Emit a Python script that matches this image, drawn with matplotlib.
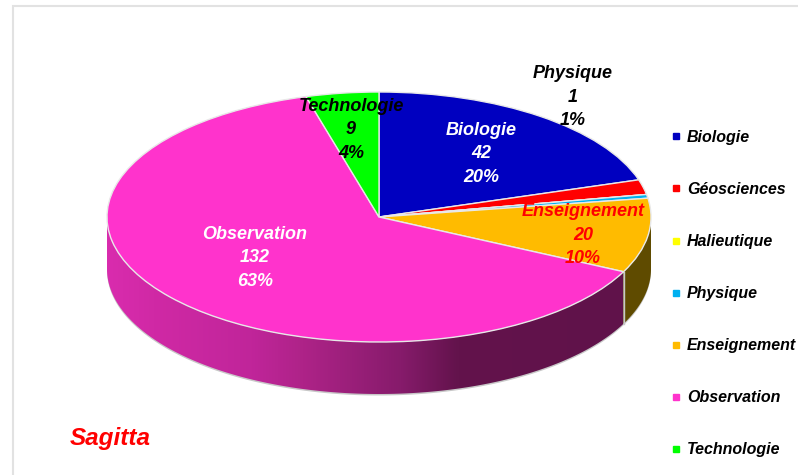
import numpy as np
import matplotlib
matplotlib.use("Agg")
import matplotlib.pyplot as plt
from matplotlib.lines import Line2D
from matplotlib.patches import Polygon, Rectangle
from matplotlib.colors import LinearSegmentedColormap

plt.rcParams["font.family"] = ["Liberation Sans", "DejaVu Sans"]

# Data
categories = ["Biologie", "Géosciences", "Halieutique", "Physique", "Enseignement", "Observation", "Technologie"]
values = [42, 4, 0, 1, 20, 132, 9]
percents = ["20%", "2%", "0%", "1%", "10%", "63%", "4%"]
colors = ["#0000C0", "#FF0000", "#FFFF00", "#00B0F0", "#FFBB00", "#FF33CC", "#00FF00"]

W, H = 798, 475
CX, CY, RX, RY, DEPTH = 379, 217, 272, 125, 52


def ux(px):
    return (px - CX) / RX


def uy(py):
    return (CY - py) / RY


fig = plt.figure(figsize=(W / 100, H / 100), dpi=100)
ax = fig.add_axes([0, 0, 1, 1])

# pie top
wedges, _ = ax.pie(values, colors=colors, startangle=90, counterclock=False, radius=1,
                   wedgeprops={"edgecolor": "#E8E8E8", "linewidth": 1.0})
for w in wedges:
    w.set_zorder(5)
ax.set_aspect("auto")
ax.axis("off")

# side walls, angles come from the values
d = DEPTH / RY
cum = np.cumsum(values) / sum(values)
ens_end = 90 - 360 * cum[4]


def wall(a0, a1):
    t = np.radians(np.linspace(a0, a1, 120))
    x, y = np.cos(t), np.sin(t)
    return np.column_stack([np.r_[x, x[::-1]], np.r_[y, y[::-1] - d]])


# shadow edge under the pie
ax.add_patch(Polygon(wall(0, -180) - [0, 0.012], closed=True, fc="#C8C8C8", ec="none", zorder=1))

ax.add_patch(Polygon(wall(0, ens_end), closed=True, fc="#5F4B00", ec="none", zorder=2))

obs_wall = Polygon(wall(ens_end, -180), closed=True, fc="none", ec="none", zorder=2)
ax.add_patch(obs_wall)
cmap = LinearSegmentedColormap.from_list("side", [(0, "#D92CAE"), (0.09, "#D029A5"), (0.28, "#C0259A"),
                                                  (0.38, "#AE2388"), (0.57, "#861B6B"), (0.68, "#63134C"),
                                                  (1, "#60124A")])
img = ax.imshow(np.linspace(0, 1, 256).reshape(1, -1), cmap=cmap, aspect="auto", zorder=2,
                extent=(-1, ux(623), -1 - d - 0.02, 0.0), interpolation="bilinear")
img.set_clip_path(obs_wall)
ax.set_xlim(ux(0), ux(W))
ax.set_ylim(uy(H), uy(0))

# seam between the two walls
t = np.radians(ens_end)
ax.plot([np.cos(t), np.cos(t)], [np.sin(t), np.sin(t) - d], color="#C8C8C8", lw=1, zorder=3)

# chart frame
ax.add_patch(Rectangle((ux(13), uy(H + 20)), ux(W + 20) - ux(13), uy(6) - uy(H + 20),
                       fc="none", ec="#E2E2E2", lw=1.5, zorder=0))

# data labels: centre pixel, category index, colour
labels = [(573, 97, 3, "black"), (481, 154, 0, "white"), (583, 235, 4, "red"),
          (255, 258, 5, "white"), (351, 130, 6, "black")]
for px, py, i, col in labels:
    ax.text(ux(px), uy(py), f"{categories[i]}\n{values[i]}\n{percents[i]}", color=col, ha="center", va="center",
            fontsize=13, fontweight="bold", fontstyle="italic", linespacing=1.5, zorder=8)

ax.text(ux(70), uy(438), "Sagitta", color="red", ha="left", va="center",
        fontsize=17.5, fontweight="bold", fontstyle="italic", zorder=8)

# legend
handles = [Line2D([], [], ls="none", marker="s", ms=5, color=c) for c in colors]
fig.legend(handles, categories, loc="upper left", bbox_to_anchor=(668 / W, 1 - 130 / H),
           frameon=False, labelspacing=2.32, handletextpad=0.2, borderaxespad=0, borderpad=0,
           handlelength=1.0, prop={"family": "Liberation Sans", "weight": "bold", "style": "italic", "size": 11.5})

fig.savefig("out.png", dpi=100)
